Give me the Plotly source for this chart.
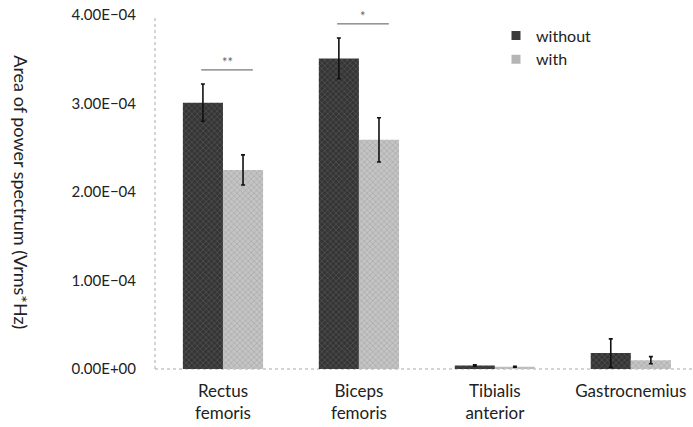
import plotly.graph_objects as go

muscles = ["Rectus<br>femoris", "Biceps<br>femoris", "Tibialis<br>anterior", "Gastrocnemius"]
without_vals = [3.01e-4, 3.51e-4, 4.0e-6, 1.8e-5]
without_err = [0.21e-4, 0.23e-4, 0.8e-6, 1.6e-5]
with_vals = [2.25e-4, 2.59e-4, 2.5e-6, 1.0e-5]
with_err = [0.17e-4, 0.25e-4, 0.6e-6, 0.4e-5]
sig_marks = ["**", "*", "", ""]
y_ticks = [0, 1e-4, 2e-4, 3e-4, 4e-4]
y_ticktext = ["0.00E+00", "1.00E\u221204", "2.00E\u221204", "3.00E\u221204", "4.00E\u221204"]

font = "Lato, 'DejaVu Sans', sans-serif"
dark = dict(shape="x", fgcolor="#777777", bgcolor="#353535", size=4, solidity=0.3)
light = dict(shape="x", fgcolor="#8a8a8a", bgcolor="#c4c4c4", size=4, solidity=0.3)

fig = go.Figure()
fig.add_bar(
    x=muscles, y=without_vals, name="without", showlegend=False,
    error_y=dict(type="data", array=without_err, color="#111", thickness=1.6, width=2),
    marker=dict(color="#3a3a3a", line=dict(width=0), pattern=dark),
)
fig.add_bar(
    x=muscles, y=with_vals, name="with", showlegend=False,
    error_y=dict(type="data", array=with_err, color="#111", thickness=1.6, width=2),
    marker=dict(color="#bdbdbd", line=dict(width=0), pattern=light),
)
# small square legend keys
fig.add_scatter(x=[None], y=[None], mode="markers", name="without",
                marker=dict(symbol="square", size=9, color="#3a3a3a"))
fig.add_scatter(x=[None], y=[None], mode="markers", name="with",
                marker=dict(symbol="square", size=9, color="#b5b5b5"))

# significance lines above each pair
for i, mark in enumerate(sig_marks):
    if not mark:
        continue
    top = max(without_vals[i] + without_err[i], with_vals[i] + with_err[i]) + 0.16e-4
    fig.add_shape(type="line", xref="x", yref="y", x0=i - 0.16, x1=i + 0.22, y0=top, y1=top,
                  line=dict(color="#555", width=1))
    fig.add_annotation(x=i + 0.03, y=top, text=mark, showarrow=False, yanchor="bottom",
                       yshift=-2, font=dict(size=13, color="#666", family=font))

fig.add_annotation(
    xref="paper", yref="paper", x=-0.25, y=0.5, xanchor="center", yanchor="middle",
    text="Area of power spectrum (Vrms*Hz)",
    textangle=90, showarrow=False, font=dict(size=18, color="#222", family=font),
)

fig.update_layout(
    width=693, height=427,
    margin=dict(l=155, r=1, t=15, b=58),
    plot_bgcolor="white", paper_bgcolor="white",
    barmode="group", bargap=0.41, bargroupgap=0,
    font=dict(family=font, color="#222"),
    showlegend=True,
    legend=dict(x=0.635, y=0.99, xanchor="left", yanchor="top", font=dict(size=16),
                bgcolor="rgba(0,0,0,0)", itemwidth=30, tracegroupgap=0),
    xaxis=dict(range=[-0.5, 3.45], showline=False, ticks="", tickfont=dict(size=17),
               showgrid=False, zeroline=False, automargin=False, ticklabelstandoff=10),
    yaxis=dict(range=[0, 4.0005e-4], tickvals=y_ticks, ticktext=y_ticktext, ticks="",
               tickfont=dict(size=15), showgrid=False, zeroline=False, showline=False,
               ticklabelstandoff=18, automargin=False, ticklabeloverflow="allow"),
)
# dotted axis lines
fig.add_shape(type="line", xref="paper", yref="paper", x0=0, x1=1, y0=0, y1=0,
              line=dict(color="#aaa", width=1, dash="dot"), layer="below")
fig.add_shape(type="line", xref="paper", yref="paper", x0=0, x1=0, y0=0, y1=1,
              line=dict(color="#aaa", width=1, dash="dot"), layer="below")

# drop the page's default body margin so the figure fills the window
fig.write_html("out.html", config={"displayModeBar": False},
               post_script="document.body.style.margin='0';")
